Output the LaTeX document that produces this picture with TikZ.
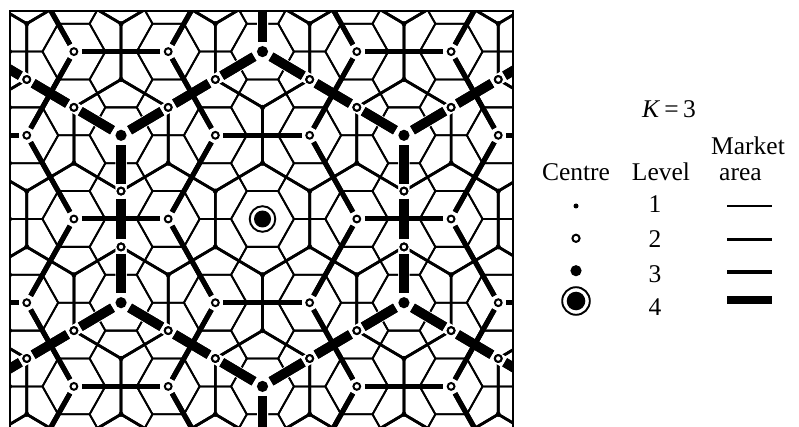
\documentclass[tikz,border=0pt]{standalone}
\usepackage{fontspec}
\setmainfont{Liberation Serif}
\begin{document}
\begin{tikzpicture}[x=1pt,y=1pt,
  lone/.style={line width=1.8pt, line join=round},
  ltwo/.style={line width=2.7pt, line join=round},
  lthree/.style={line width=5pt},
  lfour/.style={line width=9.5pt},
  opencirc/.style={fill=white, draw=black, line width=2pt},
  txt/.style={font=\fontsize{25.5}{30}\selectfont, inner sep=0pt}]
\useasboundingbox (0,0) rectangle (799,-427);
\fill[white] (0,0) rectangle (799,-427);
\begin{scope}
\clip (10,-11) rectangle (513,-440);
\begin{scope}[shift={(262.5pt,-219pt)}, x=47.15pt, y=-27.9pt]
% level 1 market areas
\foreach \cc in {-7,...,7}{
 \foreach \rr in {-10,...,10}{
  \ifodd\numexpr\cc+\rr\relax\else
   \draw[lone] ({\cc+0.6667},\rr) -- ({\cc+0.3333},{\rr+1}) -- ({\cc-0.3333},{\rr+1}) -- ({\cc-0.6667},\rr) -- ({\cc-0.3333},{\rr-1}) -- ({\cc+0.3333},{\rr-1}) -- cycle;
  \fi}}
% level 2 market areas
\foreach \cc in {-8,...,8}{
 \foreach \rr in {-12,-9,...,12}{
  \ifodd\numexpr\cc+\rr\relax\else
   \draw[ltwo] ({\cc+1},{\rr-1}) -- ({\cc+1},{\rr+1}) -- (\cc,{\rr+2}) -- ({\cc-1},{\rr+1}) -- ({\cc-1},{\rr-1}) -- (\cc,{\rr-2}) -- cycle;
  \fi}}
% white casing under level 4 boundaries
\foreach \cc in {-9,-6,...,9}{
 \foreach \rr in {-9,0,9}{
  \ifodd\numexpr\cc/3+\rr/9\relax\else
   \draw[white, line width=11pt] (\cc,{\rr-6}) -- ({\cc+3},{\rr-3}) -- ({\cc+3},{\rr+3}) -- (\cc,{\rr+6}) -- ({\cc-3},{\rr+3}) -- ({\cc-3},{\rr-3}) -- cycle;
  \fi}}
% level 3 market areas
\foreach \cc in {-9,-6,...,9}{
 \foreach \rr in {-12,-9,...,12}{
  \ifodd\numexpr\cc/3+\rr/3\relax\else
   \foreach \ax/\ay/\bx/\by in {2/0/1/3, 1/3/-1/3, -1/3/-2/0, -2/0/-1/-3, -1/-3/1/-3, 1/-3/2/0}{
     \draw[lthree, shorten <=8pt, shorten >=8pt] ({\cc+\ax},{\rr+\ay}) -- ({\cc+\bx},{\rr+\by});
   }
  \fi}}
% level 4 market areas
\foreach \cc in {-9,-6,...,9}{
 \foreach \rr in {-9,0,9}{
  \ifodd\numexpr\cc/3+\rr/9\relax\else
   \foreach \vx/\vy/\dx/\dy in {0/-6/1/1, 3/-3/0/2, 3/3/-1/1, 0/6/-1/-1, -3/3/0/-2, -3/-3/1/-1}{
     \draw[lfour, shorten <=10pt, shorten >=7.5pt] ({\cc+\vx},{\rr+\vy}) -- ({\cc+\vx+\dx},{\rr+\vy+\dy});
     \draw[lfour, shorten <=7.5pt, shorten >=7.5pt] ({\cc+\vx+\dx},{\rr+\vy+\dy}) -- ({\cc+\vx+2*\dx},{\rr+\vy+2*\dy});
     \draw[lfour, shorten <=7.5pt, shorten >=10pt] ({\cc+\vx+2*\dx},{\rr+\vy+2*\dy}) -- ({\cc+\vx+3*\dx},{\rr+\vy+3*\dy});
   }
  \fi}}
% level 1 centres
\foreach \cc in {-6,...,6}{
 \foreach \rr in {-8,...,8}{
  \ifodd\numexpr\cc+\rr\relax\else
   \ifnum\numexpr\rr-3*(\rr/3)\relax=0 \else
    \fill (\cc,\rr) circle (2.6pt);
   \fi
  \fi}}
% level 2 centres
\foreach \cc in {-6,...,6}{
 \foreach \rr in {-9,-6,...,9}{
  \ifodd\numexpr\cc+\rr\relax\else
   \ifnum\numexpr\cc-3*(\cc/3)\relax=0 \else
    \filldraw[opencirc] (\cc,\rr) circle (3.4pt);
   \fi
  \fi}}
% centres on level 4 boundaries
\foreach \cc in {-9,-6,...,9}{
 \foreach \rr in {-9,0,9}{
  \ifodd\numexpr\cc/3+\rr/9\relax\else
   \foreach \vx/\vy/\dx/\dy in {0/-6/1/1, 3/-3/0/2, 3/3/-1/1, 0/6/-1/-1, -3/3/0/-2, -3/-3/1/-1}{
     \filldraw[opencirc] ({\cc+\vx+\dx},{\rr+\vy+\dy}) circle (3.4pt);
     \filldraw[opencirc] ({\cc+\vx+2*\dx},{\rr+\vy+2*\dy}) circle (3.4pt);
   }
  \fi}}
% level 3 and 4 centres
\foreach \cc in {-9,-6,...,9}{
 \foreach \rr in {-12,-9,...,12}{
  \ifodd\numexpr\cc/3+\rr/3\relax\else
   \ifnum\numexpr\rr-9*(\rr/9)\relax=0
    \fill (\cc,\rr) circle (8.5pt);
    \draw[line width=1.9pt] (\cc,\rr) circle (12.8pt);
   \else
    \fill (\cc,\rr) circle (5.6pt);
   \fi
  \fi}}
\end{scope}
\end{scope}
% frame
\draw[line width=1.8pt] (10,-440) -- (10,-11) -- (513,-11) -- (513,-440);
% legend
\node[txt, anchor=base] (k) at (669,-117.7) {\textit{K}\,=\,3};
\node[txt, anchor=base west] (market) at (711,-155) {Market};
\node[txt, anchor=base west] (area) at (719,-180.5) {area};
\node[txt, anchor=base] (centre) at (576,-180.5) {Centre};
\node[txt, anchor=base] (level) at (661,-180.5) {Level};
\node[txt, anchor=base] (n1) at (655,-212.5) {1};
\node[txt, anchor=base] (n2) at (655,-247.3) {2};
\node[txt, anchor=base] (n3) at (655,-282.7) {3};
\node[txt, anchor=base] (n4) at (655,-315) {4};
\fill (576,-206) circle (2.5pt);
\filldraw[opencirc] (576,-238.3) circle (3.6pt);
\fill (576,-270.7) circle (5.6pt);
\fill (576,-301) circle (9.3pt);
\draw[line width=1.9pt] (576,-301) circle (13.8pt);
\draw[line width=1.4pt] (727,-206) -- (772,-206);
\draw[line width=2.6pt] (727,-239.3) -- (772,-239.3);
\draw[line width=4.2pt] (727,-271.7) -- (772,-271.7);
\draw[line width=8.5pt] (727,-300) -- (772,-300);
\end{tikzpicture}
\end{document}
